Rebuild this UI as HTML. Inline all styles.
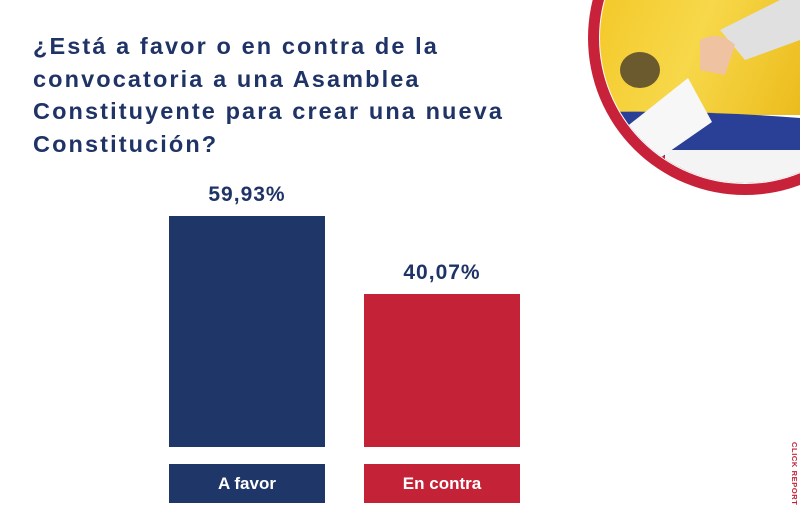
<!DOCTYPE html>
<html><head><style>
body{margin:0;width:800px;height:526px;background:#fff;position:relative;overflow:hidden;font-family:"Liberation Sans",sans-serif;}
.t{position:absolute;left:33px;top:30px;font-size:23.5px;font-weight:bold;color:#1f3366;line-height:32.5px;letter-spacing:2.1px;white-space:nowrap}
.bar{position:absolute;}
.p{position:absolute;font-size:21px;font-weight:bold;color:#1f3366;text-align:center;width:156px;letter-spacing:1px}
.lb{position:absolute;top:464px;height:39px;width:156px;color:#fff;font-weight:bold;font-size:17px;text-align:center;line-height:39px}
</style></head><body>
<svg style="position:absolute;left:0;top:0" width="800" height="526">
<defs><clipPath id="c"><circle cx="745" cy="38" r="145"/></clipPath>
<linearGradient id="y" x1="0" y1="0" x2="1" y2="0.3"><stop offset="0" stop-color="#f2c21b"/><stop offset="0.5" stop-color="#f7d84a"/><stop offset="1" stop-color="#e9b410"/></linearGradient></defs>
<circle cx="745" cy="38" r="157" fill="#c8223a"/>
<circle cx="745" cy="38" r="146" fill="#fff"/>
<g clip-path="url(#c)">
<rect x="590" y="-110" width="310" height="225" fill="url(#y)"/>
<path d="M590 112 Q700 110 800 118 L800 175 L590 175Z" fill="#2a3f96"/>
<path d="M590 150 Q700 160 800 165 L800 200 L590 200Z" fill="#d62c2c"/>
<rect x="665" y="150" width="140" height="40" fill="#f4f4f4"/>
<path d="M720 30 L800 -10 L800 40 L745 60Z" fill="#e0e0e0"/>
<path d="M700 40 Q720 30 735 45 L725 75 L700 70Z" fill="#efc2a2"/>
<polygon points="625,128 688,78 712,122 650,165" fill="#f7f7f7"/>
<ellipse cx="640" cy="70" rx="20" ry="18" fill="#6b5a2d"/>
</g>
</svg>
<div class="t">¿Está a favor o en contra de la<br>convocatoria a una Asamblea<br>Constituyente para crear una nueva<br>Constitución?</div>
<div class="p" style="left:169px;top:183px">59,93%</div>
<div class="p" style="left:364px;top:261px">40,07%</div>
<div class="bar" style="left:169px;top:216px;width:156px;height:231px;background:#1f3668"></div>
<div class="bar" style="left:364px;top:294px;width:156px;height:153px;background:#c42237"></div>
<div class="lb" style="left:169px;background:#1f3668">A favor</div>
<div class="lb" style="left:364px;background:#c42237">En contra</div>
<div style="position:absolute;left:779px;top:442px;width:20px;font-size:7.5px;font-weight:bold;color:#c42237;writing-mode:vertical-rl;letter-spacing:0.6px">CLICK REPORT</div>
</body></html>
